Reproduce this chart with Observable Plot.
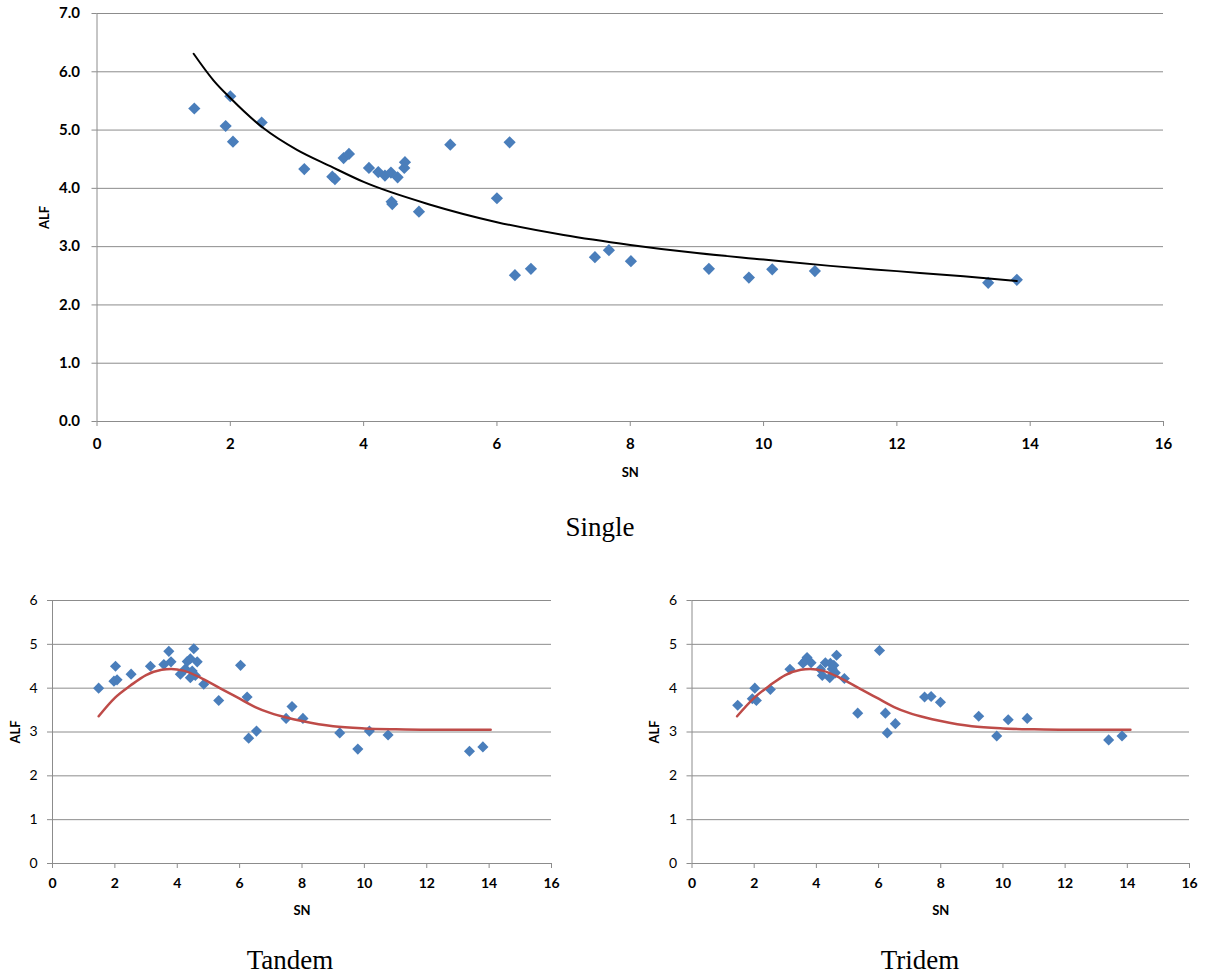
<!DOCTYPE html>
<html>
<head>
<meta charset="utf-8">
<script src="https://cdn.jsdelivr.net/npm/d3@7"></script>
<script src="https://cdn.jsdelivr.net/npm/@observablehq/plot@0.6"></script>
<style>
  html, body { margin: 0; padding: 0; background: #fff; }
  body { width: 1206px; height: 978px; position: relative; overflow: hidden; font-family: Lato, "Open Sans", sans-serif; }
  .chart { position: absolute; }
  .caption { position: absolute; font-family: "Liberation Serif", "Times New Roman", serif; font-size: 27px; color: #000; transform: translate(-50%, -50%); white-space: nowrap; }
</style>
</head>
<body>
<div id="single" class="chart" style="left:0;top:0"></div>
<div id="tandem" class="chart" style="left:0;top:585px"></div>
<div id="tridem" class="chart" style="left:640px;top:585px"></div>
<div class="caption" style="left:600px;top:527px">Single</div>
<div class="caption" style="left:290px;top:960px">Tandem</div>
<div class="caption" style="left:920px;top:960px">Tridem</div>
<script>
// ---- Data ----
const singleSN  = [1.46,1.93,2.00,2.04,2.47,3.11,3.53,3.57,3.70,3.78,4.08,4.22,4.32,4.41,4.51,4.61,4.62,4.42,4.43,4.83,5.30,6.00,6.19,6.27,6.51,7.47,7.68,8.01,9.18,9.78,10.13,10.77,13.37,13.80];
const singleALF = [5.37,5.07,5.58,4.80,5.13,4.33,4.20,4.16,4.52,4.59,4.35,4.28,4.22,4.27,4.19,4.35,4.45,3.77,3.73,3.60,4.75,3.83,4.79,2.51,2.62,2.82,2.94,2.75,2.62,2.47,2.61,2.58,2.38,2.43];
const singleFitSN  = [1.45,1.75,2.0,2.5,3.0,3.5,4.0,5.0,6.0,7.0,8.0,9.0,10.0,11.0,12.0,13.0,13.8];
const singleFitALF = [6.31,5.85,5.55,5.03,4.66,4.38,4.11,3.72,3.42,3.20,3.03,2.89,2.78,2.67,2.58,2.49,2.41];

const tandemSN  = [1.48,1.97,2.02,2.07,2.52,3.14,3.57,3.73,3.80,4.10,4.26,4.32,4.42,4.42,4.48,4.53,4.58,4.64,4.85,5.33,6.03,6.24,6.29,6.54,7.49,7.68,8.03,9.21,9.79,10.16,10.76,13.37,13.80];
const tandemALF = [4.00,4.16,4.50,4.19,4.32,4.50,4.54,4.84,4.60,4.32,4.44,4.61,4.67,4.24,4.39,4.90,4.29,4.60,4.09,3.72,4.52,3.80,2.86,3.02,3.31,3.58,3.31,2.98,2.61,3.02,2.93,2.56,2.66];
const tandemFitSN  = [1.48,2.0,2.5,3.0,3.5,3.8,4.2,4.8,5.5,6.0,6.5,7.0,7.5,8.0,9.0,10.0,11.0,12.0,13.0,14.05];
const tandemFitALF = [3.36,3.78,4.06,4.30,4.42,4.44,4.40,4.22,3.95,3.76,3.57,3.43,3.33,3.25,3.13,3.08,3.06,3.05,3.05,3.05];

const tridemSN  = [1.47,1.94,2.02,2.07,2.52,3.15,3.57,3.65,3.70,3.83,4.13,4.19,4.29,4.43,4.45,4.51,4.56,4.61,4.65,4.90,5.33,6.03,6.22,6.28,6.54,7.48,7.69,7.99,9.22,9.80,10.17,10.78,13.40,13.83];
const tridemALF = [3.61,3.76,4.00,3.72,3.97,4.43,4.57,4.63,4.70,4.58,4.43,4.29,4.58,4.24,4.57,4.44,4.52,4.35,4.75,4.22,3.43,4.86,3.43,2.98,3.19,3.80,3.81,3.68,3.36,2.91,3.28,3.31,2.82,2.91];
const tridemFitSN  = [1.45,2.0,2.5,3.0,3.5,3.8,4.2,4.8,5.5,6.0,6.5,7.0,7.5,8.0,9.0,10.0,11.0,12.0,13.0,14.1];
const tridemFitALF = [3.36,3.78,4.06,4.30,4.42,4.44,4.40,4.22,3.95,3.76,3.57,3.43,3.33,3.25,3.13,3.08,3.06,3.05,3.05,3.05];

const xTicks = [0,2,4,6,8,10,12,14,16];
const yTicksSingle = [0,1,2,3,4,5,6,7];
const yTicksSmall = [0,1,2,3,4,5,6];

const zip = (xs, ys) => xs.map((x, i) => ({x, y: ys[i]}));

function makeChart(o) {
  const pts = zip(o.sn, o.alf);
  const fit = zip(o.fitSN, o.fitALF);
  return Plot.plot({
    width: o.width, height: o.height,
    marginLeft: o.ml, marginRight: o.mr, marginTop: o.mt, marginBottom: o.mb,
    style: {fontFamily: "Lato, 'Open Sans', sans-serif", fontSize: o.fs + "px", color: "#000", background: "transparent"},
    x: {domain: [0, 16]},
    y: {domain: [0, o.yTicks[o.yTicks.length - 1]]},
    marks: [
      Plot.ruleY(o.yTicks, {stroke: "#8c8c8c", strokeWidth: 1}),
      Plot.ruleX([0], {stroke: "#8c8c8c", strokeWidth: 1}),
      Plot.axisX({ticks: xTicks, tickSize: 5, tickPadding: o.xPad, stroke: "#8c8c8c", fill: "#000",
                  fontSize: o.fs, label: "SN", labelAnchor: "center", labelArrow: "none", labelOffset: o.xLabelOffset}),
      Plot.axisY({ticks: o.yTicks, tickSize: 5, tickPadding: o.yPad, stroke: "#8c8c8c", fill: "#000",
                  tickFormat: o.yFmt, fontSize: o.fs, label: "ALF", labelAnchor: "center", labelArrow: "none", labelOffset: o.yLabelOffset}),
      Plot.dot(pts, {x: "x", y: "y", symbol: "diamond2", r: o.r, fill: "#4a7ebb", stroke: "none"}),
      Plot.line(fit, {x: "x", y: "y", stroke: o.lineColor, strokeWidth: o.lw, curve: "monotone-x"})
    ]
  });
}

function styleAxes(svg, xBold, yBold) {
  svg.querySelectorAll("[aria-label='x-axis label'] text, [aria-label='y-axis label'] text, [aria-label='x-axis label'], [aria-label='y-axis label']").forEach(t => {
    t.setAttribute("font-weight", "bold");
    t.setAttribute("font-size", "13");
  });
  svg.querySelectorAll("[aria-label='x-axis tick label']").forEach(g => g.setAttribute("font-weight", xBold));
  svg.querySelectorAll("[aria-label='y-axis tick label']").forEach(g => g.setAttribute("font-weight", yBold));
}

const single = makeChart({
  sn: singleSN, alf: singleALF, fitSN: singleFitSN, fitALF: singleFitALF,
  width: 1206, height: 495, ml: 96.5, mr: 43, mt: 13, mb: 74,
  yTicks: yTicksSingle, yFmt: d3.format(".1f"), fs: 15, r: 5.5,
  lineColor: "#000", lw: 2, xPad: 12, yPad: 12, xLabelOffset: 55, yLabelOffset: 57
});
styleAxes(single, "bold", "bold");
document.getElementById("single").appendChild(single);

const tandem = makeChart({
  sn: tandemSN, alf: tandemALF, fitSN: tandemFitSN, fitALF: tandemFitALF,
  width: 600, height: 335, ml: 52, mr: 49, mt: 15, mb: 57,
  yTicks: yTicksSmall, yFmt: d3.format("d"), fs: 14, r: 5,
  lineColor: "#be4b48", lw: 2.5, xPad: 10, yPad: 10, xLabelOffset: 51, yLabelOffset: 42
});
styleAxes(tandem, "bold", "normal");
document.getElementById("tandem").appendChild(tandem);

const tridem = makeChart({
  sn: tridemSN, alf: tridemALF, fitSN: tridemFitSN, fitALF: tridemFitALF,
  width: 566, height: 335, ml: 51.5, mr: 17, mt: 15, mb: 57,
  yTicks: yTicksSmall, yFmt: d3.format("d"), fs: 14, r: 5,
  lineColor: "#be4b48", lw: 2.5, xPad: 10, yPad: 10, xLabelOffset: 51, yLabelOffset: 42
});
styleAxes(tridem, "bold", "normal");
document.getElementById("tridem").appendChild(tridem);
</script>
</body>
</html>
